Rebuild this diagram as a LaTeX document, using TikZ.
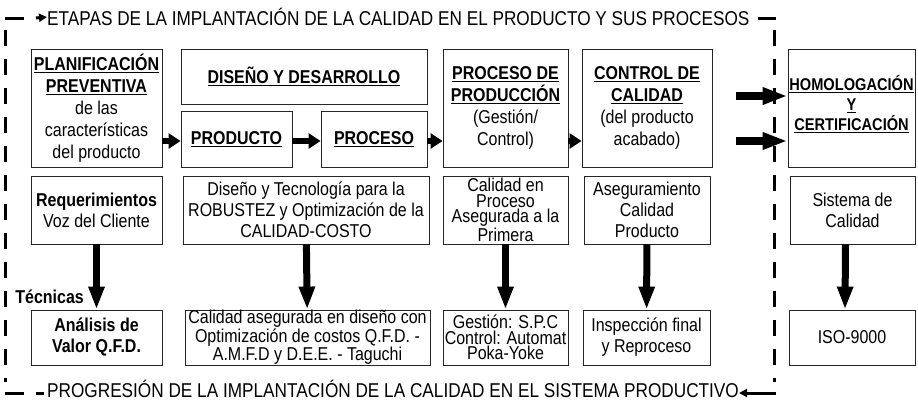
\documentclass[tikz,border=0pt]{standalone}
\usepackage{fontspec}
\setmainfont[FakeStretch=0.86]{Liberation Sans}
\usetikzlibrary{arrows.meta}

\begin{document}
\begin{tikzpicture}[x=1pt,y=-1pt]
\useasboundingbox (0,0) rectangle (918,400);
% boxes, top row
\begin{scope}[every node/.style={draw=black!85,line width=0.9pt,inner sep=0pt,align=center,
                                 font=\fontsize{18.6}{22}\selectfont}]
    \node[minimum width=131pt,minimum height=118pt] (planif) at (96.5,108)
        {\underline{\textbf{PLANIFICACIÓN}}\\\underline{\textbf{PREVENTIVA}}\\de las\\características\\del producto};
    \node[minimum width=246pt,minimum height=55pt] (diseno) at (304,76.5)
        {\underline{\textbf{DISEÑO Y DESARROLLO}}};
    \node[minimum width=111pt,minimum height=56pt] (producto) at (236.5,139)
        {\underline{\textbf{PRODUCTO}}};
    \node[minimum width=106pt,minimum height=56pt] (proceso) at (374,139)
        {\underline{\textbf{PROCESO}}};
    \node[minimum width=125pt,minimum height=118pt] (produccion) at (505.5,108)
        {\underline{\textbf{PROCESO DE}}\\\underline{\textbf{PRODUCCIÓN}}\\(Gestión/\\Control)};
    \node[minimum width=130pt,minimum height=118pt] (control) at (647,108)
        {\underline{\textbf{CONTROL DE}}\\\underline{\textbf{CALIDAD}}\\(del producto\\acabado)};
    \node[minimum width=127pt,minimum height=118pt,font=\fontsize{17}{20}\selectfont] (homolog) at (851.5,108)
        {\underline{\textbf{HOMOLOGACIÓN}}\\\underline{\textbf{Y}}\\\underline{\textbf{CERTIFICACIÓN}}\\[-10pt]};
\end{scope}
% boxes, middle row
\begin{scope}[every node/.style={draw=black!85,line width=0.9pt,inner sep=0pt,align=center,
                                 minimum height=68pt,font=\fontsize{18.6}{21}\selectfont}]
    \node[minimum width=131pt] (requer) at (96.5,210) {\textbf{Requerimientos}\\Voz del Cliente};
    \node[minimum width=246pt] (tecnologia) at (306,210)
        {Diseño y Tecnología para la\\ROBUSTEZ y Optimización de la\\CALIDAD-COSTO};
    \node[minimum width=125pt,font=\fontsize{18.6}{15.5}\selectfont] (enproceso) at (505.5,210)
        {Calidad en\\Proceso\\Asegurada a la\\Primera};
    \node[minimum width=126pt] (asegura) at (647,210) {Aseguramiento\\Calidad\\Producto};
    \node[minimum width=125pt] (sistema) at (852.5,210) {Sistema de\\Calidad};
\end{scope}
% boxes, bottom row
\begin{scope}[every node/.style={draw=black!85,line width=0.9pt,inner sep=0pt,align=center,
                                 minimum height=55pt,font=\fontsize{18.6}{21}\selectfont}]
    \node[minimum width=131pt] (analisis) at (96.5,337.5) {\textbf{Análisis de}\\\textbf{Valor Q.F.D.}};
    \node[minimum width=245pt,font=\fontsize{18.6}{15.5}\selectfont] (asegdiseno) at (307.5,337.5)
        {Calidad asegurada en diseño con\\Optimización de costos Q.F.D. -\\A.M.F.D y D.E.E. - Taguchi};
    \node[minimum width=125pt,font=\fontsize{18.6}{15.5}\selectfont] (gestion) at (505.5,337.5)
        {Gestión: S.P.C\\Control: Automat\\Poka-Yoke};
    \node[minimum width=127pt] (inspeccion) at (646.5,337.5) {Inspección final\\y Reproceso};
    \node[minimum width=126pt] (iso) at (852,337.5) {ISO-9000};
\end{scope}
% titles
\node[anchor=west,inner sep=0pt,font=\fontsize{20}{20}\selectfont] (etapas) at (47,17)
    {ETAPAS DE LA IMPLANTACIÓN DE LA CALIDAD EN EL PRODUCTO Y SUS PROCESOS};
\node[anchor=west,inner sep=0pt,font=\fontsize{20}{20}\selectfont] (progresion) at (47,389)
    {PROGRESIÓN DE LA IMPLANTACIÓN DE LA CALIDAD EN EL SISTEMA PRODUCTIVO};
\node[anchor=east,inner sep=0pt,font=\fontsize{18.6}{20}\selectfont\bfseries] (tecnicas) at (84,297) {Técnicas};
\coordinate (arrowrow) at (0,141);
\coordinate (hstart1) at (736,96);
\coordinate (hstart2) at (736,141);
% dashed frame
\begin{scope}[line width=3pt]
    \draw (5,18) -- (24,18);
    \draw (758,18) -- (776,18);
    \draw (5,393) -- (24,393);
    \draw (36,393) -- (44,393);
    \draw[dash pattern=on 16pt off 13pt] (5,30) -- (5,382);
    \draw[dash pattern=on 16pt off 13pt] (774,30) -- (774,382);
    \path [-{Triangle[width=8pt,length=8pt]}] (36,18) edge (etapas.west);
    \path [-{Triangle[width=8pt,length=8pt]}] (776,393) edge (progresion.east |- 776,393);
\end{scope}
% small arrows along the top row
\begin{scope}[every edge/.style={draw,line width=6pt,-{Triangle[width=15pt,length=12pt]}}]
    \path (planif.east |- arrowrow) edge (producto.west |- arrowrow);
    \path (producto.east |- arrowrow) edge (proceso.west |- arrowrow);
    \path (proceso.east |- arrowrow) edge (produccion.west |- arrowrow);
    \path (produccion.east |- arrowrow) edge (control.west |- arrowrow);
\end{scope}
% big arrows
\begin{scope}[every edge/.style={draw,line width=8pt,-{Triangle[width=16pt,length=25pt]}}]
    \path (hstart1) edge (homolog.west |- hstart1);
    \path (hstart2) edge (homolog.west |- hstart2);
\end{scope}
\begin{scope}[every edge/.style={draw,line width=7pt,-{Triangle[width=15pt,length=23pt]}}]
    \path (requer) edge (analisis);
    \path (tecnologia) edge (asegdiseno);
    \path (enproceso) edge (gestion);
    \path (asegura) edge (inspeccion);
    \path ([xshift=-7pt]sistema.south) edge ([xshift=-7pt]iso.north);
\end{scope}
\end{tikzpicture}
\end{document}
